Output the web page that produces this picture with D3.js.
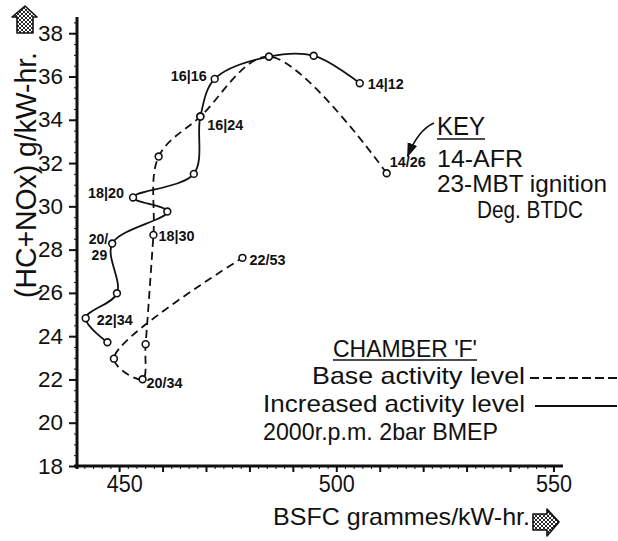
<!DOCTYPE html>
<html><head><meta charset="utf-8">
<script src="https://cdn.jsdelivr.net/npm/d3@7"></script>
<style>
body{margin:0;background:#fff}
svg{display:block}
text{font-family:'Liberation Sans',Arial,sans-serif;fill:#111}
</style>
</head><body>
<svg id="chart" width="618" height="541"></svg>
<script>
// Chamber 'F', 2000 rpm, 2 bar BMEP: BSFC (g/kW-hr) against HC+NOx (g/kW-hr)
// Increased activity level (solid line)
const increasedBsfc   = [505.4, 494.8, 484.5, 472.0, 468.7, 467.2, 453.2, 461.1, 448.4, 449.5, 442.3, 447.3];
const increasedHcNox  = [35.69, 36.96, 36.92, 35.89, 34.15, 31.50, 30.41, 29.76, 28.28, 25.98, 24.83, 23.72];
const increasedLabels = ["14|12", "", "", "16|16", "16|24", "", "18|20", "", "20/29", "", "22|34", ""];

// Base activity level (dashed line)
const baseBsfc   = [511.6, 484.5, 468.7, 459.1, 457.9, 456.1, 455.4, 448.8, 478.4];
const baseHcNox  = [31.53, 36.92, 34.15, 32.30, 28.68, 23.63, 22.01, 22.96, 27.62];
const baseLabels = ["14/26", "", "", "", "18|30", "", "20/34", "", "22/53"];

const xTickValues = [450, 500, 550];
const yTickValues = [18, 20, 22, 24, 26, 28, 30, 32, 34, 36, 38];

const keyLines = ["14-AFR", "23-MBT ignition", "Deg. BTDC"];
const legendTitle = "CHAMBER 'F'";
const legendBase = "Base activity level";
const legendIncreased = "Increased activity level";
const legendCondition = "2000r.p.m. 2bar BMEP";

const svg = d3.select("#chart");
const x = d3.scaleLinear().domain([440.3, 552.2]).range([77, 563]);
const y = d3.scaleLinear().domain([18, 38.75]).range([466, 17]);

// hatch fill for the axis direction arrows
const defs = svg.append("defs");
const hatch = defs.append("pattern").attr("id", "hatch").attr("patternUnits", "userSpaceOnUse")
  .attr("width", 4).attr("height", 4);
hatch.append("rect").attr("width", 4).attr("height", 4).attr("fill", "#fff");
hatch.append("path").attr("d", "M0,4L4,0M0,0L4,4").attr("stroke", "#111").attr("stroke-width", 0.9);
defs.append("marker").attr("id", "head").attr("viewBox", "0 0 10 10").attr("refX", 9).attr("refY", 5)
  .attr("markerWidth", 9).attr("markerHeight", 9).attr("orient", "auto-start-reverse")
  .append("path").attr("d", "M0,1.5L10,5L0,8.5Z").attr("fill", "#111");

// axes
const xAxis = svg.append("g").attr("transform", `translate(0,${y(18)})`)
  .call(d3.axisBottom(x).tickValues(xTickValues).tickSize(0).tickPadding(10).tickFormat(d3.format("d")));
xAxis.select(".domain").remove();
xAxis.selectAll("text").style("font-size", "23px").attr("textLength", 36).attr("lengthAdjust", "spacingAndGlyphs")
  .attr("dx", d => d === 450 ? 5 : 0);
svg.append("g").attr("transform", `translate(0,${y(18)})`)
  .call(d3.axisBottom(x).tickValues(d3.range(450, 551, 10)).tickSize(6).tickFormat(""))
  .call(g => g.select(".domain").remove())
  .selectAll("line").attr("stroke", "#111").attr("stroke-width", 2);
svg.append("g").attr("transform", `translate(0,${y(18)})`)
  .call(d3.axisBottom(x).tickValues(d3.range(442, 551, 2)).tickSize(3).tickFormat(""))
  .call(g => g.select(".domain").remove())
  .selectAll("line").attr("stroke", "#111").attr("stroke-width", 1);

const yAxis = svg.append("g").attr("transform", `translate(${x(440.3)},0)`)
  .call(d3.axisLeft(y).tickValues(yTickValues).tickSize(8).tickPadding(6));
yAxis.select(".domain").remove();
yAxis.selectAll("line").attr("stroke", "#111").attr("stroke-width", 2);
yAxis.selectAll("text").style("font-size", "22px").attr("textLength", 25).attr("lengthAdjust", "spacingAndGlyphs");
svg.append("g").attr("transform", `translate(${x(440.3)},0)`)
  .call(d3.axisLeft(y).tickValues(d3.range(18.5, 38.6, 0.5)).tickSize(3).tickFormat(""))
  .call(g => g.select(".domain").remove())
  .selectAll("line").attr("stroke", "#111").attr("stroke-width", 1);

svg.append("line").attr("x1", x(440.3) - 3).attr("x2", x(552.2)).attr("y1", y(18)).attr("y2", y(18))
  .attr("stroke", "#111").attr("stroke-width", 3);
svg.append("line").attr("x1", x(440.3)).attr("x2", x(440.3)).attr("y1", y(38.75)).attr("y2", y(18) + 3)
  .attr("stroke", "#111").attr("stroke-width", 3);

// axis titles
svg.append("text").attr("x", 273).attr("y", 525).style("font-size", "24px")
  .attr("textLength", 257).attr("lengthAdjust", "spacingAndGlyphs").text("BSFC grammes/kW-hr.");
svg.append("text").attr("transform", "translate(36,298) rotate(-90)").style("font-size", "29px")
  .attr("textLength", 246).attr("lengthAdjust", "spacingAndGlyphs").text("(HC+NOx) g/kW-hr.");

// direction arrows at the axis ends
svg.append("path").attr("d", "M25,6L37,17L33,17L33,33L17,33L17,17L12,17Z")
  .attr("fill", "url(#hatch)").attr("stroke", "#111").attr("stroke-width", 1.6).attr("stroke-linejoin", "round");
svg.append("path").attr("d", "M559,522L547,509L547,514L533,514L533,530L547,530L547,536Z")
  .attr("fill", "url(#hatch)").attr("stroke", "#111").attr("stroke-width", 1.6).attr("stroke-linejoin", "round");

// series
const increased = increasedBsfc.map((b, i) => ({b, h: increasedHcNox[i], label: increasedLabels[i]}));
const base = baseBsfc.map((b, i) => ({b, h: baseHcNox[i], label: baseLabels[i]}));
const line = d3.line().x(d => x(d.b)).y(d => y(d.h)).curve(d3.curveCatmullRom.alpha(0.5));

svg.append("path").datum(base).attr("d", line).attr("fill", "none").attr("stroke", "#111")
  .attr("stroke-width", 1.8).attr("stroke-dasharray", "8,5");
svg.append("path").datum(increased).attr("d", line).attr("fill", "none").attr("stroke", "#111")
  .attr("stroke-width", 1.8);

for (const s of [base, increased]) {
  svg.append("g").selectAll("circle").data(s).join("circle")
    .attr("cx", d => x(d.b)).attr("cy", d => y(d.h)).attr("r", 3.4)
    .attr("fill", "#fff").attr("stroke", "#111").attr("stroke-width", 1.6);
}

// point labels (AFR | ignition advance)
const labelPlace = {
  "14|12": [8, 6, "start"], "16|16": [-8, 2, "end"], "16|24": [7, 13, "start"],
  "18|20": [-9, 1, "end"], "20/29": [-4, 0, "end"], "22|34": [11, 7, "start"],
  "14/26": [3, -6, "start"], "18|30": [5, 6, "start"], "20/34": [4, 9, "start"], "22/53": [7, 7, "start"]
};
const labelled = increased.concat(base).filter(d => d.label);
const lab = svg.append("g").selectAll("text").data(labelled).join("text")
  .attr("x", d => x(d.b) + labelPlace[d.label][0])
  .attr("y", d => y(d.h) + labelPlace[d.label][1])
  .attr("text-anchor", d => labelPlace[d.label][2])
  .style("font-size", "14px").style("font-weight", "bold");
lab.each(function(d) {
  const t = d3.select(this);
  if (d.label === "20/29") {
    t.append("tspan").text("20/");
    t.append("tspan").attr("x", x(d.b) - 5).attr("dy", 16).text("29");
  } else {
    t.attr("textLength", 36).attr("lengthAdjust", "spacingAndGlyphs").text(d.label);
  }
});

// key
svg.append("text").attr("x", 437).attr("y", 135).style("font-size", "26px")
  .attr("textLength", 48).attr("lengthAdjust", "spacingAndGlyphs").text("KEY");
svg.append("line").attr("x1", 437).attr("x2", 485).attr("y1", 139).attr("y2", 139).attr("stroke", "#111").attr("stroke-width", 1.6);
const keyX = [437, 437, 477], keyY = [167, 192, 218], keyW = [86, 170, 106];
keyLines.forEach((t, i) => svg.append("text").attr("x", keyX[i]).attr("y", keyY[i]).style("font-size", "24px")
  .attr("textLength", keyW[i]).attr("lengthAdjust", "spacingAndGlyphs").text(t));
const p26 = base[0];
const ap = d3.path();
ap.moveTo(434, 123);
ap.quadraticCurveTo(418, 130, x(p26.b) + 21, y(p26.h) - 17);
svg.append("path").attr("d", ap.toString()).attr("fill", "none").attr("stroke", "#111")
  .attr("stroke-width", 1.6).attr("marker-end", "url(#head)");

// legend
svg.append("text").attr("x", 333).attr("y", 357).style("font-size", "24px")
  .attr("textLength", 144).attr("lengthAdjust", "spacingAndGlyphs").text(legendTitle);
svg.append("line").attr("x1", 333).attr("x2", 477).attr("y1", 360).attr("y2", 360).attr("stroke", "#111").attr("stroke-width", 1.4);
svg.append("text").attr("x", 312).attr("y", 384).style("font-size", "24px")
  .attr("textLength", 213).attr("lengthAdjust", "spacingAndGlyphs").text(legendBase);
svg.append("line").attr("x1", 530).attr("x2", 617).attr("y1", 378).attr("y2", 378)
  .attr("stroke", "#111").attr("stroke-width", 1.8).attr("stroke-dasharray", "9,4");
svg.append("text").attr("x", 263).attr("y", 412).style("font-size", "24px")
  .attr("textLength", 262).attr("lengthAdjust", "spacingAndGlyphs").text(legendIncreased);
svg.append("line").attr("x1", 535).attr("x2", 617).attr("y1", 406).attr("y2", 406)
  .attr("stroke", "#111").attr("stroke-width", 1.8);
svg.append("text").attr("x", 263).attr("y", 440).style("font-size", "24px")
  .attr("textLength", 235).attr("lengthAdjust", "spacingAndGlyphs").text(legendCondition);
</script>
</body></html>
